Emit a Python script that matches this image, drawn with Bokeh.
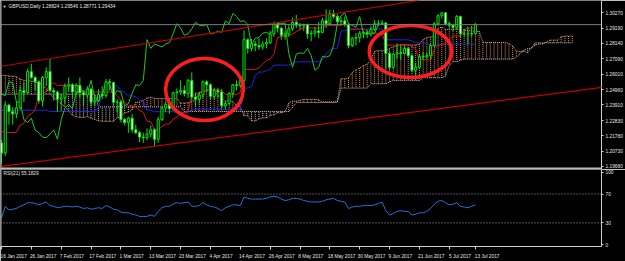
from bokeh.plotting import figure
from bokeh.layouts import column
from bokeh.models import (Range1d, LinearAxis, FixedTicker, PrintfTickFormatter,
                          CustomJSTickFormatter, Span, Slope, BoxAnnotation, Label,
                          ColumnDataSource)
from bokeh.embed import file_html
from bokeh.resources import INLINE

# ------------------------------------------------------------------ data
symbol_title = "GBPUSD,Daily  1.28824 1.29546 1.28771 1.29434"
rsi_title = "RSI(21) 55.1829"
last_price = 1.29434

opens = [1.2130, 1.2060, 1.2390, 1.2345, 1.2330, 1.2370, 1.2490, 1.2475, 1.2620, 1.2580,
         1.2550, 1.2420, 1.2580, 1.2620, 1.2490, 1.2480, 1.2430, 1.2440, 1.2520, 1.2530,
         1.2480, 1.2525, 1.2475, 1.2460, 1.2500, 1.2410, 1.2420, 1.2465, 1.2455, 1.2550,
         1.2545, 1.2410, 1.2412, 1.2290, 1.2270, 1.2300, 1.2220, 1.2200, 1.2170, 1.2165,
         1.2190, 1.2220, 1.2155, 1.2290, 1.2370, 1.2395, 1.2365, 1.2475, 1.2480, 1.2490,
         1.2470, 1.2560, 1.2445, 1.2430, 1.2460, 1.2550, 1.2530, 1.2450, 1.2490, 1.2480,
         1.2385, 1.2400, 1.2470, 1.2530, 1.2525, 1.2560, 1.2840, 1.2780, 1.2810, 1.2800,
         1.2790, 1.2810, 1.2820, 1.2880, 1.2950, 1.2920, 1.2870, 1.2880, 1.2915, 1.2960,
         1.2940, 1.2935, 1.2945, 1.2880, 1.2885, 1.2900, 1.2890, 1.2970, 1.2950, 1.3020,
         1.3000, 1.2965, 1.2970, 1.2945, 1.2800, 1.2850, 1.2855, 1.2885, 1.2890, 1.2880,
         1.2910, 1.2950, 1.2950, 1.2955, 1.2745, 1.2650, 1.2740, 1.2750, 1.2745, 1.2780,
         1.2730, 1.2630, 1.2650, 1.2725, 1.2720, 1.2730, 1.2800, 1.2950, 1.3005, 1.3025,
         1.2950, 1.2940, 1.2925, 1.3000, 1.2880, 1.2880, 1.2880, 1.28824]
highs = [1.2150, 1.2417, 1.2400, 1.2375, 1.2415, 1.2520, 1.2545, 1.2640, 1.2675, 1.2590,
         1.2560, 1.2590, 1.2650, 1.2706, 1.2510, 1.2490, 1.2470, 1.2540, 1.2580, 1.2540,
         1.2540, 1.2580, 1.2490, 1.2520, 1.2510, 1.2445, 1.2500, 1.2520, 1.2570, 1.2570,
         1.2550, 1.2430, 1.2425, 1.2300, 1.2310, 1.2330, 1.2255, 1.2215, 1.2200, 1.2230,
         1.2250, 1.2230, 1.2310, 1.2380, 1.2410, 1.2400, 1.2480, 1.2505, 1.2560, 1.2525,
         1.2570, 1.2615, 1.2475, 1.2480, 1.2560, 1.2560, 1.2540, 1.2510, 1.2510, 1.2500,
         1.2420, 1.2480, 1.2535, 1.2560, 1.2590, 1.2905, 1.2850, 1.2845, 1.2830, 1.2850,
         1.2830, 1.2850, 1.2900, 1.2965, 1.2960, 1.2925, 1.2900, 1.2945, 1.2990, 1.3010,
         1.2955, 1.2950, 1.2950, 1.2905, 1.2930, 1.2960, 1.2990, 1.3048, 1.3045, 1.3045,
         1.3015, 1.2995, 1.3000, 1.2950, 1.2860, 1.2885, 1.2900, 1.2900, 1.2910, 1.2935,
         1.2975, 1.2975, 1.2975, 1.2960, 1.2760, 1.2750, 1.2815, 1.2800, 1.2800, 1.2790,
         1.2740, 1.2680, 1.2740, 1.2755, 1.2750, 1.2810, 1.2960, 1.3015, 1.3030, 1.3030,
         1.2965, 1.2945, 1.3010, 1.3005, 1.2915, 1.2930, 1.2935, 1.29546]
lows = [1.1986, 1.2040, 1.2255, 1.2255, 1.2300, 1.2360, 1.2410, 1.2470, 1.2570, 1.2490,
        1.2400, 1.2380, 1.2520, 1.2480, 1.2420, 1.2345, 1.2350, 1.2400, 1.2480, 1.2440,
        1.2460, 1.2440, 1.2385, 1.2440, 1.2380, 1.2385, 1.2410, 1.2430, 1.2440, 1.2490,
        1.2380, 1.2340, 1.2270, 1.2250, 1.2200, 1.2200, 1.2190, 1.2135, 1.2130, 1.2150,
        1.2170, 1.2109, 1.2130, 1.2280, 1.2340, 1.2330, 1.2350, 1.2440, 1.2460, 1.2450,
        1.2440, 1.2420, 1.2380, 1.2400, 1.2440, 1.2480, 1.2430, 1.2430, 1.2440, 1.2365,
        1.2365, 1.2390, 1.2440, 1.2490, 1.2510, 1.2515, 1.2745, 1.2760, 1.2760, 1.2770,
        1.2770, 1.2780, 1.2810, 1.2860, 1.2890, 1.2840, 1.2840, 1.2860, 1.2900, 1.2920,
        1.2910, 1.2900, 1.2845, 1.2830, 1.2860, 1.2850, 1.2885, 1.2920, 1.2940, 1.2985,
        1.2950, 1.2940, 1.2930, 1.2780, 1.2790, 1.2800, 1.2820, 1.2850, 1.2850, 1.2860,
        1.2900, 1.2935, 1.2940, 1.2635, 1.2630, 1.2640, 1.2710, 1.2700, 1.2740, 1.2720,
        1.2615, 1.2589, 1.2640, 1.2700, 1.2710, 1.2700, 1.2790, 1.2935, 1.2985, 1.2940,
        1.2915, 1.2900, 1.2915, 1.2850, 1.2865, 1.2810, 1.2860, 1.28771]
closes = [1.2060, 1.2390, 1.2345, 1.2330, 1.2370, 1.2490, 1.2475, 1.2620, 1.2580, 1.2550,
          1.2420, 1.2580, 1.2620, 1.2490, 1.2480, 1.2430, 1.2440, 1.2520, 1.2530, 1.2480,
          1.2525, 1.2475, 1.2460, 1.2500, 1.2410, 1.2420, 1.2465, 1.2455, 1.2550, 1.2545,
          1.2410, 1.2412, 1.2290, 1.2270, 1.2300, 1.2220, 1.2200, 1.2170, 1.2165, 1.2190,
          1.2220, 1.2155, 1.2290, 1.2370, 1.2395, 1.2365, 1.2475, 1.2480, 1.2490, 1.2470,
          1.2560, 1.2445, 1.2430, 1.2460, 1.2550, 1.2530, 1.2450, 1.2490, 1.2480, 1.2385,
          1.2400, 1.2470, 1.2530, 1.2525, 1.2560, 1.2840, 1.2780, 1.2810, 1.2800, 1.2790,
          1.2810, 1.2820, 1.2880, 1.2950, 1.2920, 1.2870, 1.2880, 1.2915, 1.2960, 1.2940,
          1.2935, 1.2945, 1.2880, 1.2885, 1.2900, 1.2890, 1.2970, 1.2950, 1.3020, 1.3000,
          1.2965, 1.2970, 1.2945, 1.2800, 1.2850, 1.2855, 1.2885, 1.2890, 1.2880, 1.2910,
          1.2950, 1.2950, 1.2955, 1.2745, 1.2650, 1.2740, 1.2750, 1.2745, 1.2780, 1.2730,
          1.2630, 1.2650, 1.2725, 1.2720, 1.2730, 1.2800, 1.2950, 1.3005, 1.3025, 1.2950,
          1.2940, 1.2925, 1.3000, 1.2880, 1.2880, 1.2880, 1.2882, 1.29434]

rsi_values = [37, 53, 48, 49, 50, 53, 55, 58, 58, 57,
              55, 57, 59, 54, 53, 51, 52, 53, 53, 52,
              53, 52, 50, 51, 49, 50, 51, 50, 54, 52,
              49, 48, 45, 44, 44, 42, 41, 39, 39, 39,
              41, 39, 46, 51, 53, 53, 56, 58, 57, 58,
              59, 53, 53, 54, 58, 55, 53, 52, 50, 47,
              51, 53, 55, 55, 54, 66, 64, 63, 63, 63,
              63, 64, 66, 67, 66, 63, 61, 62, 64, 64,
              63, 61, 60, 59, 59, 59, 60, 62, 63, 64,
              61, 60, 59, 50, 52, 53, 53, 54, 54, 54,
              55, 57, 59, 47, 41, 43, 46, 47, 46, 46,
              41, 42, 44, 44, 46, 50, 56, 60, 61, 58,
              55, 56, 58, 53, 52, 51, 53, 55.18]

# Ichimoku values before the first visible bar
tenkan_lead = [1.2209]
kijun_lead = [1.2355, 1.2355, 1.2355, 1.2355, 1.2355, 1.2355, 1.2355,
              1.2355, 1.2355, 1.2355, 1.2355, 1.2355, 1.2355]
span_a_lead = [1.2594, 1.2594, 1.2590, 1.2590, 1.2585, 1.2570, 1.2560, 1.2560, 1.2555,
               1.2550, 1.2540, 1.2530, 1.2500, 1.2470, 1.2440, 1.2420, 1.2400, 1.2380,
               1.2350, 1.2320, 1.2310, 1.2305, 1.2305, 1.2310, 1.2300, 1.2290]
span_b_lead = [1.2465, 1.2465, 1.2465, 1.2465, 1.2465, 1.2465, 1.2465, 1.2465, 1.2465,
               1.2465, 1.2465, 1.2465, 1.2465, 1.2465, 1.2465, 1.2465, 1.2465, 1.2465,
               1.2465, 1.2465, 1.2465, 1.2465, 1.2465, 1.2465, 1.2465, 1.2465,
               1.2378, 1.2378, 1.2378, 1.2378, 1.2378, 1.2378, 1.2378, 1.2378, 1.2378,
               1.2378, 1.2378, 1.2378, 1.2378, 1.2378, 1.2378, 1.2378, 1.2378, 1.2378,
               1.2378, 1.2378, 1.2378, 1.2378, 1.2378]

price_ticks = [1.30270, 1.29190, 1.28140, 1.27090, 1.26010, 1.24960, 1.23910,
               1.22830, 1.21780, 1.20730, 1.19680]
rsi_ticks = [0, 30, 70, 100]
rsi_levels = [30, 70]

date_tick_bars = [0, 8, 16, 24, 32, 40, 48, 56, 64, 72, 80, 88, 96, 104, 112, 120, 127]
date_tick_labels = ["16 Jan 2017", "26 Jan 2017", "7 Feb 2017", "17 Feb 2017", "1 Mar 2017",
                    "13 Mar 2017", "23 Mar 2017", "4 Apr 2017", "14 Apr 2017", "26 Apr 2017",
                    "8 May 2017", "18 May 2017", "30 May 2017", "9 Jun 2017", "21 Jun 2017",
                    "5 Jul 2017", "13 Jul 2017"]

# trend channel anchors (bar, price) and highlighted zones (bar, price, width bars, height price)
channel_upper = [(0, 1.2657), (100, 1.3062)]
channel_lower = [(0, 1.19684), (160, 1.25091)]
zones = [(54.4, 1.2497, 20.8, 0.0427), (109.6, 1.2759, 22.1, 0.0358)]

# ------------------------------------------------------------------ indicators
N = len(closes)
bars = list(range(N))
SHIFT = 26


def midpoint(period, i):
    a = max(0, i - period + 1)
    return (max(highs[a:i + 1]) + min(lows[a:i + 1])) / 2


tenkan = [midpoint(9, i) for i in bars]
tenkan[:len(tenkan_lead)] = tenkan_lead
kijun = [midpoint(26, i) for i in bars]
kijun[:len(kijun_lead)] = kijun_lead
span_a = span_a_lead + [(t + k) / 2 for t, k in zip(tenkan, kijun)]
span_b_calc = [None] * SHIFT + [midpoint(52, i) for i in bars]
span_b = span_b_lead + span_b_calc[len(span_b_lead):]
cloud_x = list(range(len(span_a)))
chikou = closes[SHIFT:]
chikou_x = bars[:len(chikou)]

# ------------------------------------------------------------------ geometry / style
PX_BAR = 3.75
PX_PRICE = 0.000688
X0 = -1 / PX_BAR
X1 = X0 + 604 / PX_BAR
Y1 = 1.30270 + 12 * PX_PRICE
Y0 = Y1 - 169 * PX_PRICE
FONT = "Liberation Sans"
FS = "4.8px"
TXT = "#e6e6e6"
AX = "#d0d0d0"
CANDLE = "#00e600"

xr = Range1d(X0, X1)

p = figure(width=625, height=169, x_range=xr, y_range=Range1d(Y0, Y1),
           output_backend="svg", toolbar_location=None,
           x_axis_location=None, y_axis_location=None,
           background_fill_color="black", border_fill_color="black",
           outline_line_color=None, min_border_left=0, min_border_right=21,
           min_border_top=0, min_border_bottom=0)
p.xgrid.visible = False
p.ygrid.visible = False

yax = LinearAxis(ticker=FixedTicker(ticks=price_ticks),
                 formatter=PrintfTickFormatter(format="%.5f"),
                 axis_line_color=AX, major_tick_line_color=AX, major_tick_out=2,
                 major_tick_in=0, minor_tick_line_color=None,
                 major_label_text_color=TXT, major_label_text_font_size=FS,
                 major_label_text_font=FONT, major_label_standoff=2)
p.add_layout(yax, "right")

# cloud
cloud_src = ColumnDataSource(dict(
    x=cloud_x, a=span_a, b=span_b,
    c=["#dc9258" if span_a[j] >= span_b[j] else "#cdb8cd" for j in cloud_x]))
p.segment(x0="x", y0="a", x1="x", y1="b", color="c", line_dash="1 1",
          line_width=1, source=cloud_src)
p.line(cloud_x, span_a, line_color="#f4a460", line_dash="1 1", line_width=1)
p.line(cloud_x, span_b, line_color="#d8bfd8", line_dash="1 1", line_width=1)

# channel
for (xa, ya), (xb, yb) in (channel_upper, channel_lower):
    g = (yb - ya) / (xb - xa)
    p.add_layout(Slope(gradient=g, y_intercept=ya - g * xa,
                       line_color="#c00000", line_width=1.2))

# current price line
p.add_layout(Span(location=last_price, dimension="width",
                  line_color="#7c7c7c", line_width=1))

# ichimoku lines
p.line(bars, kijun, line_color="#2424e6", line_width=1)
p.line(bars, tenkan, line_color="#e01010", line_width=1)
p.line(chikou_x, chikou, line_color="#22c422", line_width=1)

# candles
csrc = ColumnDataSource(dict(
    x=bars, o=opens, h=highs, l=lows, c=closes,
    top=[max(o, c) for o, c in zip(opens, closes)],
    bot=[min(o, c) for o, c in zip(opens, closes)],
    fill=["black" if c >= o else "white" for o, c in zip(opens, closes)]))
p.segment(x0="x", y0="h", x1="x", y1="l", line_color=CANDLE, line_width=1, source=csrc)
p.vbar(x="x", width=0.55, top="top", bottom="bot", fill_color="fill",
       line_color=CANDLE, line_width=1, source=csrc)

# highlighted zones
p.ellipse(x=[z[0] for z in zones], y=[z[1] for z in zones],
          width=[z[2] for z in zones], height=[z[3] for z in zones],
          fill_alpha=0, line_color="#ff1e1e", line_width=3.5)

# frame bits
p.add_layout(BoxAnnotation(bottom=Y0, top=Y0 + 2 * PX_PRICE, fill_color="#bdbdbd",
                           fill_alpha=1, line_alpha=0))
p.add_layout(Span(location=X0 + 0.5 / PX_BAR, dimension="height",
                  line_color="#bdbdbd", line_width=1))

p.add_layout(Label(x=X0 + 2 / PX_BAR, y=Y1 - 6 * PX_PRICE, text="\u25bc",
                   text_font_size="4px", text_color=TXT, text_baseline="middle",
                   text_font=FONT))
p.add_layout(Label(x=X0 + 8 / PX_BAR, y=Y1 - 6 * PX_PRICE, text=symbol_title,
                   text_font_size=FS, text_color=TXT, text_baseline="middle",
                   text_font=FONT))

# ------------------------------------------------------------------ RSI panel
RPX = 0.76
r = figure(width=625, height=92, x_range=xr,
           y_range=Range1d(-2 / RPX, 100 + 3 / RPX),
           output_backend="svg", toolbar_location=None,
           x_axis_location=None, y_axis_location=None,
           background_fill_color="black", border_fill_color="black",
           outline_line_color=None, min_border_left=0, min_border_right=21,
           min_border_top=0, min_border_bottom=11)
r.xgrid.visible = False
r.ygrid.visible = False

rax = LinearAxis(ticker=FixedTicker(ticks=rsi_ticks),
                 formatter=PrintfTickFormatter(format="%d"),
                 axis_line_color=AX, major_tick_line_color=AX, major_tick_out=2,
                 major_tick_in=0, minor_tick_line_color=None,
                 major_label_text_color=TXT, major_label_text_font_size=FS,
                 major_label_text_font=FONT, major_label_standoff=2)
r.add_layout(rax, "right")

label_shift = [len(s) * 2.15 / 2 / PX_BAR for s in date_tick_labels]
xax = LinearAxis(ticker=FixedTicker(ticks=[b + s for b, s in zip(date_tick_bars, label_shift)],
                                    minor_ticks=date_tick_bars),
                 formatter=CustomJSTickFormatter(args=dict(labels=date_tick_labels),
                                                 code="return labels[index];"),
                 axis_line_color=AX, major_tick_line_color=None,
                 minor_tick_line_color=AX, minor_tick_out=3, minor_tick_in=0,
                 major_label_text_color=TXT, major_label_text_font_size=FS,
                 major_label_text_font=FONT, major_label_standoff=1)
r.add_layout(xax, "below")

for lv in rsi_levels:
    r.add_layout(Span(location=lv, dimension="width", line_color="#a0a0a0",
                      line_dash="1 2", line_width=1))
r.add_layout(Span(location=X0 + 0.5 / PX_BAR, dimension="height",
                  line_color="#bdbdbd", line_width=1))
r.line(bars, rsi_values, line_color="#1e74d6", line_width=1)
r.add_layout(Label(x=X0 + 3 / PX_BAR, y=100 + 3 / RPX - 4 / RPX, text=rsi_title,
                   text_font_size=FS, text_color=TXT, text_baseline="middle",
                   text_font=FONT))

layout = column(p, r, spacing=0)
open("out.html", "w").write(file_html(layout, INLINE))
